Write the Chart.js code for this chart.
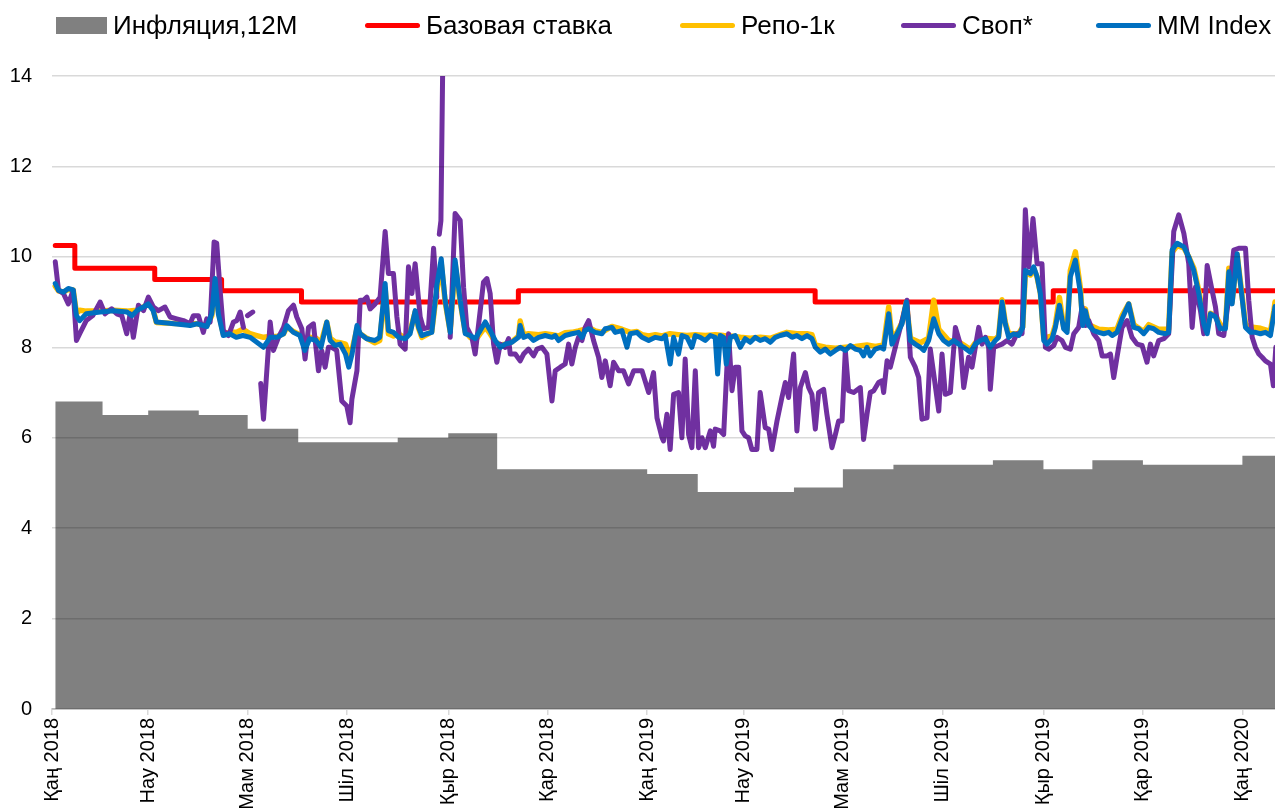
<!DOCTYPE html>
<html>
<head>
<meta charset="utf-8">
<script src="https://cdn.jsdelivr.net/npm/chart.js@4.4.1/dist/chart.umd.min.js"></script>
<style>
  body { margin: 0; background: #fff; font-family: "Liberation Sans", Arial, sans-serif; }
  #wrap { position: relative; width: 1275px; height: 808px; overflow: hidden; }
  #chart { position: absolute; left: 0; top: 0; }
  .lg { position: absolute; top: 9px; height: 32px; display: flex; align-items: center;
        font-size: 26px; color: #000; white-space: nowrap; }
  .lg i { display: inline-block; margin-right: 6px; }
  .lg i.ln { width: 55px; height: 5px; border-radius: 3px; }
</style>
</head>
<body>
<div id="wrap">
  <canvas id="chart" width="1275" height="808"></canvas>
  <div class="lg" style="left:56px"><i style="width:51px;height:17px;background:#808080"></i>Инфляция,12М</div>
  <div class="lg" style="left:365px"><i class="ln" style="background:#ff0000"></i>Базовая ставка</div>
  <div class="lg" style="left:680px"><i class="ln" style="background:#ffc000"></i>Репо-1к</div>
  <div class="lg" style="left:901px"><i class="ln" style="background:#7030a0"></i>Своп*</div>
  <div class="lg" style="left:1096px"><i class="ln" style="background:#0070c0"></i>MM Index</div>
</div>
<script>
// x = days since 1 Jan 2018
const tickDays = [0, 59, 120, 181, 243, 304, 365, 424, 485, 546, 608, 669, 730];
const tickLabels = ["Қаң 2018", "Нау 2018", "Мам 2018", "Шіл 2018", "Қыр 2018", "Қар 2018",
  "Қаң 2019", "Нау 2019", "Мам 2019", "Шіл 2019", "Қыр 2019", "Қар 2019", "Қаң 2020"];

// monthly inflation, 12M (%)
const inflDays = [2, 31, 59, 90, 120, 151, 181, 212, 243, 273, 304, 334, 365, 396, 424, 455,
  485, 516, 546, 577, 608, 638, 669, 699, 730, 750];
const inflVals = [6.8, 6.5, 6.6, 6.5, 6.2, 5.9, 5.9, 6.0, 6.1, 5.3, 5.3, 5.3, 5.2, 4.8, 4.8, 4.9,
  5.3, 5.4, 5.4, 5.5, 5.3, 5.5, 5.4, 5.4, 5.6, 5.6];

// base rate changes
const rateDays = [2, 14, 63, 104, 153, 286, 468, 614, 750];
const rateVals = [10.25, 9.75, 9.5, 9.25, 9.0, 9.25, 9.0, 9.25, 9.25];

// [day, value]
const mmIndex = [
  [2, 9.41], [4, 9.26], [7, 9.22], [10, 9.30], [13, 9.27], [15, 8.70], [17, 8.59], [21, 8.74],
  [29.5, 8.78], [37.7, 8.81], [46, 8.78], [49, 8.70], [52, 8.81], [56, 8.89], [59, 8.96], [62, 8.81],
  [64, 8.56], [72, 8.53], [80.6, 8.50], [84.7, 8.48], [88.8, 8.52], [95, 8.46], [98, 8.74], [100, 9.52],
  [102, 8.74], [105, 8.26], [109, 8.30], [113, 8.22], [117, 8.26], [121.5, 8.22], [125.6, 8.11],
  [129.7, 8.00], [133.8, 8.22], [138, 8.22], [142, 8.30], [144, 8.48], [148, 8.33], [152, 8.26],
  [155, 7.93], [158, 8.19], [162, 8.15], [165, 8.00], [168.5, 8.56], [170.6, 8.15], [173.6, 8.04],
  [176.7, 8.07], [180, 7.85], [182, 7.56], [184, 7.85], [187, 8.48], [189, 8.30], [193, 8.19],
  [198, 8.15], [201, 8.22], [204.3, 9.41], [206.3, 8.37], [209.4, 8.33], [212.5, 8.22], [216.6, 8.19],
  [219.6, 8.30], [222.7, 8.81], [224.8, 8.44], [226.8, 8.26], [229.9, 8.30], [232.9, 8.33], [236, 9.37],
  [238.7, 9.96], [241.1, 9.04], [244.2, 8.33], [247.2, 9.93], [250.3, 9.04], [253.4, 8.30], [256.5, 8.26],
  [259.5, 8.19], [262.6, 8.37], [265.7, 8.56], [268.7, 8.37], [271.8, 8.15], [274.9, 8.00], [277.9, 8.07],
  [282, 8.11], [286.1, 8.22], [287.1, 8.48], [289.2, 8.22], [292.2, 8.26], [295.3, 8.15], [298.4, 8.22],
  [302.5, 8.26], [306.6, 8.22], [308.6, 8.26], [310.6, 8.15], [314.7, 8.26], [318.8, 8.30], [322.9, 8.33],
  [325, 8.22], [327, 8.37], [329.1, 8.41], [333.1, 8.33], [337.2, 8.30], [339.3, 8.41], [343.4, 8.44],
  [345.4, 8.33], [349.5, 8.37], [352.6, 8.00], [354.6, 8.30], [358.7, 8.33], [361.8, 8.22], [365.9, 8.15],
  [370, 8.22], [374.1, 8.19], [376.1, 8.26], [379.1, 7.63], [381.2, 8.22], [384.2, 7.85], [386.3, 8.26],
  [389.4, 8.22], [392.4, 8.00], [394.5, 8.26], [397.5, 8.22], [400.6, 8.15], [403.7, 8.26], [406.7, 8.22],
  [408.2, 7.41], [409.8, 8.26], [411.9, 8.22], [413.5, 7.63], [416, 8.22], [419, 8.26], [422.1, 8.00],
  [425.1, 8.19], [428.2, 8.11], [431.3, 8.22], [434.3, 8.15], [437.4, 8.19], [440.5, 8.11], [443.6, 8.22],
  [446.6, 8.26], [450.7, 8.30], [453.8, 8.22], [456.8, 8.26], [459.9, 8.19], [463, 8.26], [466, 8.19],
  [468.1, 8.00], [471.2, 7.89], [474.2, 7.96], [477.3, 7.85], [480.4, 7.93], [483.4, 8.00], [486.5, 7.93],
  [489.6, 8.04], [492.6, 7.96], [495.7, 7.93], [497.7, 7.81], [499.8, 8.00], [501.8, 7.81], [504.9, 7.96],
  [508, 8.00], [510, 7.96], [513.1, 8.74], [515.1, 8.07], [518.2, 8.30], [521.3, 8.52], [523.9, 9.00],
  [526.4, 8.15], [529.4, 8.07], [532.5, 8.00], [534.6, 7.93], [537.6, 8.15], [540.7, 8.63], [543.8, 8.30],
  [546.8, 8.15], [549.9, 8.07], [553, 8.15], [556, 8.07], [559.1, 8.00], [563.2, 7.89], [566.2, 8.07],
  [569.3, 8.15], [572.4, 8.19], [575.4, 8.00], [578.5, 8.15], [580.5, 8.22], [582.6, 9.00], [584.6, 8.52],
  [586.7, 8.22], [589.8, 8.30], [592.8, 8.26], [595.3, 8.44], [596.9, 9.70], [600, 9.63], [602, 9.78],
  [604.1, 9.56], [606.1, 9.19], [608.2, 8.15], [610.2, 8.07], [613.3, 8.19], [615.3, 8.44], [617.8, 8.93],
  [620.4, 8.41], [622.5, 8.33], [624.5, 9.56], [627.6, 9.93], [630.7, 9.19], [632.1, 8.48], [633.7, 8.81],
  [635.8, 8.48], [638.8, 8.37], [641.9, 8.33], [645, 8.30], [648, 8.33], [650.1, 8.26], [653.1, 8.33],
  [656.2, 8.63], [660.3, 8.96], [663.4, 8.44], [666.4, 8.41], [669.5, 8.30], [672.6, 8.44], [675.6, 8.41],
  [678.7, 8.33], [682.8, 8.30], [684.8, 8.33], [686.9, 10.15], [690, 10.30], [694.1, 10.22], [697.1, 10.00],
  [700.2, 9.70], [703.3, 9.19], [706.3, 8.52], [708.4, 8.30], [710.4, 8.74], [713.5, 8.67], [716.5, 8.41],
  [719.6, 8.41], [721.7, 9.67], [723.7, 8.96], [726.8, 10.07], [728.8, 9.41], [731.9, 8.44], [735, 8.33],
  [738, 8.33], [741.1, 8.30], [744.1, 8.33], [747.2, 8.26], [749.3, 8.74], [750, 8.90]
];

const repo1k = [
  [2, 9.35], [4, 9.25], [7, 9.22], [10, 9.28], [13, 9.27], [15, 8.75], [17, 8.82], [21, 8.80],
  [29.5, 8.80], [37.7, 8.82], [46, 8.80], [52, 8.82], [59, 8.95], [62, 8.85], [64, 8.55], [72, 8.53],
  [80.6, 8.52], [88.8, 8.52], [95, 8.48], [98, 8.70], [100, 9.40], [102, 8.80], [105, 8.30], [109, 8.33],
  [113, 8.33], [117, 8.40], [121.5, 8.30], [125.6, 8.26], [129.7, 8.22], [133.8, 8.24], [138, 8.24],
  [142, 8.30], [144, 8.45], [148, 8.35], [152, 8.28], [155, 8.05], [158, 8.22], [162, 8.20], [165, 8.10],
  [168.5, 8.55], [170.6, 8.20], [173.6, 8.12], [176.7, 8.10], [180, 8.07], [182, 7.85], [184, 7.95],
  [187, 8.40], [189, 8.30], [193, 8.20], [198, 8.10], [201, 8.15], [204.3, 9.30], [206.3, 8.30],
  [209.4, 8.25], [212.5, 8.30], [216.6, 8.20], [219.6, 8.35], [222.7, 8.78], [224.8, 8.42], [226.8, 8.22],
  [229.9, 8.28], [232.9, 8.35], [236, 9.25], [238.7, 9.85], [241.1, 9.00], [244.2, 8.35], [247.2, 9.85],
  [250.3, 9.00], [253.4, 8.35], [256.5, 8.22], [259.5, 8.15], [262.6, 8.30], [265.7, 8.45], [268.7, 8.30],
  [271.8, 8.12], [274.9, 8.05], [277.9, 8.07], [282, 8.12], [286.1, 8.25], [287.1, 8.58], [289.2, 8.28],
  [292.2, 8.30], [298.4, 8.28], [302.5, 8.30], [306.6, 8.28], [310.6, 8.25], [314.7, 8.32], [318.8, 8.33],
  [322.9, 8.36], [327, 8.40], [329.1, 8.44], [333.1, 8.36], [337.2, 8.33], [343.4, 8.46], [349.5, 8.40],
  [354.6, 8.33], [358.7, 8.35], [361.8, 8.28], [365.9, 8.25], [370, 8.28], [374.1, 8.25], [379, 8.30],
  [384, 8.28], [389.4, 8.26], [394.5, 8.28], [400.6, 8.26], [406.7, 8.28], [411.9, 8.26], [416, 8.25],
  [422.1, 8.22], [428.2, 8.20], [434.3, 8.22], [440.5, 8.20], [446.6, 8.28], [450.7, 8.33], [456.8, 8.30],
  [463, 8.30], [466, 8.28], [468.1, 8.05], [474.2, 8.00], [480.4, 7.98], [486.5, 8.00], [492.6, 8.02],
  [499.8, 8.05], [504.9, 8.02], [510, 8.05], [513.1, 8.89], [515.1, 8.20], [518.2, 8.33], [521.3, 8.55],
  [523.9, 9.00], [526.4, 8.20], [532.5, 8.10], [537.6, 8.20], [540.7, 9.04], [543.8, 8.40], [549.9, 8.15],
  [556, 8.12], [559.1, 8.05], [563.2, 7.95], [566.2, 8.10], [572.4, 8.20], [578.5, 8.18], [580.5, 8.25],
  [582.6, 9.05], [584.6, 8.55], [586.7, 8.30], [592.8, 8.30], [595.3, 8.45], [596.9, 9.65], [600, 9.60],
  [602, 9.75], [604.1, 9.55], [606.1, 9.20], [608.2, 8.20], [613.3, 8.25], [615.3, 8.50], [617.8, 9.10],
  [620.4, 8.45], [622.5, 8.40], [624.5, 9.70], [627.6, 10.11], [630.7, 9.30], [632.1, 8.50], [633.7, 8.85],
  [635.8, 8.50], [641.9, 8.40], [648, 8.38], [653.1, 8.40], [656.2, 8.70], [660.3, 8.96], [663.4, 8.50],
  [669.5, 8.35], [672.6, 8.50], [678.7, 8.40], [684.8, 8.40], [686.9, 10.10], [690, 10.25], [694.1, 10.20],
  [697.1, 10.00], [700.2, 9.75], [703.3, 9.25], [706.3, 8.60], [708.4, 8.40], [710.4, 8.75], [713.5, 8.70],
  [716.5, 8.50], [719.6, 8.45], [721.7, 9.75], [723.7, 9.00], [726.8, 10.05], [728.8, 9.45], [731.9, 8.50],
  [735, 8.45], [741.1, 8.42], [747.2, 8.35], [749.3, 8.80], [750, 9.00]
];

// null = gap in the series
const swap = [
  [2, 9.89], [4, 9.26], [7, 9.19], [10, 8.96], [13, 9.26], [15, 8.15], [17, 8.30], [21, 8.59],
  [25, 8.70], [29.5, 9.00], [32.5, 8.74], [36.6, 8.85], [39.7, 8.74], [42.8, 8.70], [45.8, 8.30],
  [47.9, 8.74], [49.9, 8.22], [53, 8.93], [56.1, 8.81], [59.1, 9.11], [62.2, 8.89], [65.3, 8.81],
  [69.3, 8.89], [72.4, 8.67], [76.5, 8.63], [80.6, 8.59], [84.7, 8.52], [86.7, 8.70], [89.8, 8.70],
  [92.8, 8.33], [94.9, 8.63], [97, 8.56], [99.4, 10.33], [101, 10.30], [103.1, 9.26], [105.1, 8.37],
  [108.2, 8.26], [111.3, 8.56], [113.3, 8.59], [115.4, 8.78], [117.4, 8.44], [118.5, null],
  [119.9, 8.70], [123.1, 8.78], [125, null], [128, 7.20], [129.7, 6.41], [133.8, 8.56], [135.8, 7.93],
  [138.9, 8.22], [142, 8.44], [145, 8.81], [148.1, 8.93], [150.1, 8.67], [153.2, 8.41], [155.2, 7.74],
  [157.3, 8.44], [160.3, 8.52], [163.4, 7.48], [165.4, 7.93], [167.5, 7.56], [169.5, 8.00], [171.6, 8.00],
  [174.6, 7.93], [177.7, 6.81], [180.8, 6.70], [182.8, 6.33], [183.9, 6.85], [187, 7.48], [189, 9.04],
  [191, 9.04], [193.1, 9.11], [195.1, 8.85], [198.2, 8.96], [201.2, 9.11], [204.3, 10.56], [206.3, 9.63],
  [209.4, 9.63], [211.5, 8.67], [213.5, 8.07], [216.6, 7.96], [218.6, 9.78], [220.7, 9.19], [222.7, 9.85],
  [225.8, 8.67], [227.8, 8.41], [230.9, 8.44], [234, 10.19], [236, 9.11], [236.8, null], [237.5, 10.50],
  [238.5, 10.80], [240.5, 17.0], [242, null], [244.2, 8.22], [247.2, 10.96], [250.3, 10.81], [252.4, 9.33],
  [254.4, 8.44], [257.5, 8.22], [259.5, 7.85], [262.6, 8.81], [264.6, 9.44], [266.7, 9.52], [268.7, 9.19],
  [270.8, 8.07], [272.8, 7.67], [274.9, 8.07], [277.9, 8.00], [280, 8.19], [281, 7.85], [284.1, 7.85],
  [287.1, 7.70], [289.2, 7.85], [292.2, 7.96], [295.3, 7.81], [297.4, 7.96], [300.4, 8.00], [303.5, 7.85],
  [306.6, 6.81], [308.6, 7.48], [311.7, 7.56], [314.7, 7.63], [316.8, 8.07], [318.8, 7.63], [320.9, 8.00],
  [322.9, 8.22], [325, 8.15], [327, 8.44], [329.1, 8.59], [332.1, 8.15], [335.2, 7.78], [337.2, 7.33],
  [339.3, 7.70], [342.3, 7.15], [344.4, 7.67], [347.5, 7.48], [350.5, 7.48], [353.6, 7.19], [356.7, 7.48],
  [361.8, 7.48], [365.9, 7.00], [368.9, 7.44], [371, 6.44], [374.1, 6.00], [375, 5.93], [377.1, 6.52],
  [379.1, 5.74], [381.2, 6.96], [384.2, 7.00], [386.3, 6.00], [388.3, 7.74], [390.4, 6.07], [392.4, 5.78],
  [394.5, 7.48], [396.5, 5.78], [398.6, 6.00], [400.6, 5.78], [403.7, 6.15], [405.7, 5.81], [406.7, 6.19],
  [409.8, 6.15], [411.9, 6.07], [413.9, 7.56], [414.9, 8.30], [417, 7.04], [419, 7.56], [421.1, 7.56],
  [423.1, 6.15], [425.1, 6.04], [427.2, 6.00], [429.2, 5.74], [432.3, 5.74], [434.3, 7.00], [437.4, 6.22],
  [439.5, 6.19], [441.5, 5.74], [444.6, 6.37], [447.6, 6.89], [449.7, 7.22], [451.7, 6.89], [454.8, 7.85],
  [456.8, 6.15], [458.9, 7.11], [462, 7.44], [464, 7.11], [466, 6.96], [468.1, 6.19], [470.1, 7.00],
  [473.2, 7.07], [475.2, 6.52], [478.3, 5.78], [480.4, 6.07], [482.4, 6.37], [484.5, 6.37], [486.5, 7.93],
  [488.5, 7.04], [491.6, 7.00], [495.7, 7.11], [497.7, 5.96], [499.8, 6.52], [501.8, 7.00], [503.9, 7.04],
  [506.9, 7.22], [509, 7.26], [510, 7.00], [512.1, 7.70], [514.1, 7.56], [516.1, 7.85], [518.2, 8.15],
  [521.3, 8.59], [524.3, 9.04], [526.4, 7.78], [529.4, 7.56], [531.5, 7.33], [533.5, 6.41], [536.6, 6.44],
  [538.6, 7.96], [540.7, 7.41], [543.8, 6.59], [545.8, 7.85], [547.8, 6.96], [550.9, 7.00], [554, 8.44],
  [557, 8.07], [559.1, 7.11], [562.1, 7.78], [564.2, 7.56], [566.2, 8.00], [568.3, 8.44], [570.3, 8.07],
  [572.4, 8.22], [574.4, 8.00], [575.4, 7.07], [577.5, 8.00], [580.5, 8.04], [582.6, 8.07], [585.7, 8.15],
  [588.7, 8.07], [591.8, 8.30], [594.9, 8.30], [596.9, 11.04], [599, 9.78], [601.6, 10.85], [604.1, 9.85],
  [607.1, 9.85], [609.2, 8.00], [611.2, 7.96], [614.3, 8.04], [616.3, 8.22], [619.4, 8.15], [621.5, 8.00],
  [624.5, 7.96], [626.6, 8.30], [629.6, 8.44], [631.7, 8.89], [633.7, 8.48], [635.8, 8.59], [638.8, 8.30],
  [641.9, 8.15], [644, 7.81], [647, 7.81], [649.1, 7.85], [651.1, 7.33], [653.1, 7.78], [656.2, 8.44],
  [659.3, 8.59], [662.3, 8.22], [665.4, 8.07], [668.5, 8.04], [671.5, 7.67], [673.6, 8.07], [675.6, 7.81],
  [678.7, 8.15], [681.8, 8.19], [684.8, 8.30], [687.9, 10.56], [691, 10.93], [694.1, 10.52], [697.1, 9.85],
  [699.2, 8.44], [701.2, 9.33], [704.3, 8.81], [706.3, 8.30], [708.4, 9.81], [711.4, 9.26], [713.5, 8.89],
  [715.5, 8.30], [718.6, 8.26], [721.7, 9.11], [724.7, 10.15], [727.8, 10.19], [731.9, 10.19], [733.9, 9.04],
  [736, 8.22], [738, 8.00], [740.1, 7.85], [742.1, 7.78], [744.1, 7.70], [747.2, 7.63], [749, 7.15],
  [750.5, 8.00]
];

const font = { family: "'Liberation Sans', Arial, sans-serif", size: 20 };
const pts = arr => arr.map(([x, y]) => ({ x, y }));
const zip = (xs, ys) => xs.map((x, i) => ({ x, y: ys[i] }));

function lineSet(label, data, color, order, width) {
  return {
    label, data, order,
    borderColor: color, backgroundColor: color,
    borderWidth: width, pointRadius: 0, tension: 0,
    borderJoinStyle: "round", borderCapStyle: "round", fill: false
  };
}

new Chart(document.getElementById("chart"), {
  type: "line",
  data: {
    datasets: [
      {
        label: "Инфляция,12М", data: zip(inflDays, inflVals), order: 5,
        stepped: true, fill: "origin", backgroundColor: "#808080",
        borderWidth: 0, pointRadius: 0
      },
      Object.assign(lineSet("Базовая ставка", zip(rateDays, rateVals), "#ff0000", 4, 5), { stepped: true }),
      lineSet("Репо-1к", pts(repo1k), "#ffc000", 3, 5.5),
      lineSet("Своп*", pts(swap), "#7030a0", 2, 5),
      lineSet("MM Index", pts(mmIndex), "#0070c0", 1, 5)
    ]
  },
  options: {
    responsive: false,
    animation: false,
    layout: { padding: { top: 76, left: 0, right: 0, bottom: 0 } },
    plugins: { legend: { display: false }, tooltip: { enabled: false } },
    scales: {
      x: {
        type: "linear", min: 0, max: 750,
        afterBuildTicks: scale => { scale.ticks = tickDays.map(v => ({ value: v })); },
        afterFit: scale => { scale.height = 99; },
        ticks: {
          autoSkip: false, maxRotation: 90, minRotation: 90, padding: 3,
          color: "#000", font,
          callback: v => tickLabels[tickDays.indexOf(v)] || ""
        },
        grid: { drawOnChartArea: false, drawTicks: true, tickLength: 6, color: "#d9d9d9", lineWidth: 1.5 },
        border: { display: true, color: "#d9d9d9", width: 2 }
      },
      y: {
        min: 0, max: 14,
        afterFit: scale => { scale.width = 52; },
        ticks: { stepSize: 2, padding: 20, color: "#000", font },
        grid: { drawTicks: false, color: "rgba(0,0,0,0.15)", lineWidth: 1.5, z: 1 },
        border: { display: false }
      }
    }
  }
});
</script>
</body>
</html>
